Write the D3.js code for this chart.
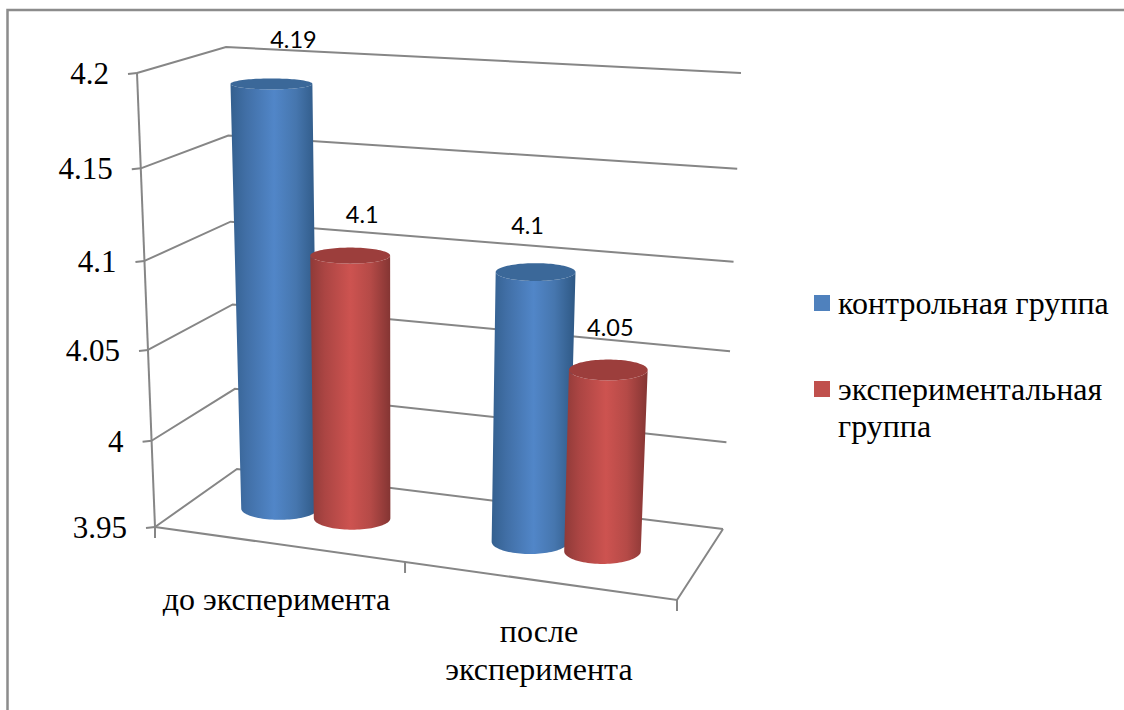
<!DOCTYPE html>
<html><head><meta charset="utf-8">
<script src="https://cdn.jsdelivr.net/npm/d3@7"></script>
<style>html,body{margin:0;padding:0;background:#fff;overflow:hidden}svg{display:block}</style>
</head><body><svg id="c" width="1124" height="710"></svg>
<script>
const categories = [["до эксперимента"], ["после", "эксперимента"]];
const seriesNames = [["контрольная группа"], ["экспериментальная", "группа"]];
const controlValues = [4.19, 4.1];
const experimentalValues = [4.1, 4.05];
const tickValues = [3.95, 4, 4.05, 4.1, 4.15, 4.2];
const tickLabels = ["3.95", "4", "4.05", "4.1", "4.15", "4.2"];
const series = [controlValues, experimentalValues];

const svg = d3.select("#c");
const defs = svg.append("defs");
const AXIS = "#868686";

// perspective box: floor corners and ceiling corners in the picture
const floor = {fl:[155,527], fr:[677,600], bl:[237,469], br:[723,529]};
const ceil  = {fl:[137,73],  fr:[703,113], bl:[226,47],  br:[741,73]};
const rise = d3.scaleLinear().domain(tickValues).range([0,.19,.39,.586,.79,1]);
const bilerp = (c,u,d) => {
  const a = d3.interpolateNumber, f = i => a(a(c.fl[i],c.fr[i])(u), a(c.bl[i],c.br[i])(u))(d);
  return [f(0), f(1)];
};
function project(u,d,v){
  const p = bilerp(floor,u,d), q = bilerp(ceil,u,d), t = rise(v);
  return [p[0]+(q[0]-p[0])*t, p[1]+(q[1]-p[1])*t];
}
const xBand = d3.scaleBand().domain(d3.range(categories.length)).range([-.0105,.9835]);
const seriesOffset = d3.scalePoint().domain(d3.range(series.length)).range([-.073,.071]);
const radiusU = .076, radiusD = .185, midD = .505;

function grad(id, stops){
  const g = defs.append("linearGradient").attr("id",id);
  stops.forEach(([o,c]) => g.append("stop").attr("offset",o).attr("stop-color",c));
}
grad("g0",[[0,"#34608f"],[.18,"#416fa6"],[.5,"#5186c8"],[.75,"#4676ae"],[1,"#2e5884"]]);
grad("g1",[[0,"#8f3a38"],[.18,"#ab4543"],[.5,"#cd5350"],[.75,"#b54a47"],[1,"#843533"]]);
const topFill = ["#3b6899","#9c3e3c"];
const swatch = ["#4f81bd","#c0504d"];

const line = d3.line();
const stroke = s => s.attr("stroke",AXIS).attr("stroke-width",2).attr("fill","none");

// walls
tickValues.forEach(v => {
  stroke(svg.append("path")).attr("d", line([project(0,0,v),project(0,1,v),project(1,1,v)]));
});
// floor and axes
stroke(svg.append("path")).attr("d", line([project(0,0,3.95),project(1,0,3.95),project(1,1,3.95)]));
stroke(svg.append("path")).attr("d", line([project(0,0,3.95),project(0,0,4.2)]));
tickValues.forEach(v => {
  const p = project(0,0,v);
  stroke(svg.append("path")).attr("d", line([[p[0]-9,p[1]+1],p]));
});
const tickU = d3.scaleLinear().domain([0,.5,1]).range([0,.479,1]);
[0,.5,1].forEach(u => {
  const p = project(tickU(u),0,3.95);
  stroke(svg.append("path")).attr("d", line([p,[p[0],p[1]+11]]));
});

// cylinders: level ellipses whose size comes from the projection
const thetas = d3.range(0,Math.PI+.001,Math.PI/48);
const uOf = (c,s) => xBand(c)+xBand.bandwidth()/2+seriesOffset(s);
const marks = [];
categories.forEach((_,c) => series.forEach((vals,s) => marks.push({c,s,v:vals[c]})));
function ellipse(u,v){
  const c = project(u,midD,v);
  const rx = (project(u+radiusU,midD,v)[0]-project(u-radiusU,midD,v)[0])/2;
  const ry = (project(u,midD-radiusD,v)[1]-project(u,midD+radiusD,v)[1])/2;
  return sign => thetas.map(t => [c[0]-rx*Math.cos(t), c[1]+sign*ry*Math.sin(t)]);
}
marks.forEach(m => {
  const u = uOf(m.c,m.s);
  const base = ellipse(u,3.95), top = ellipse(u,m.v);
  const frontTop = top(1).reverse();
  svg.append("path").attr("d", line(base(1).concat(frontTop))+"Z").attr("fill",`url(#g${m.s})`);
  svg.append("path").attr("d", line(top(-1).concat(frontTop))+"Z").attr("fill",topFill[m.s]);
});

// data labels
const labelNudge = [[22,-36],[12,-33],[-8,-38],[2,-34]];
marks.forEach((m,i) => {
  const p = project(uOf(m.c,m.s),midD,m.v);
  svg.append("text").attr("x",p[0]+labelNudge[i][0]).attr("y",p[1]+labelNudge[i][1])
    .attr("text-anchor","middle").attr("font-family","Lato, 'Open Sans', sans-serif").attr("font-size",23.5)
    .attr("fill","#000").text(String(m.v));
});

const serif = "'Liberation Serif','Times New Roman',serif";
// value labels
tickValues.forEach((v,i) => {
  const p = project(0,0,v);
  svg.append("text").attr("x",p[0]-28).attr("y",p[1]+11).attr("text-anchor","end")
    .attr("font-family",serif).attr("font-size",31).attr("fill","#000").text(tickLabels[i]);
});
// category labels
const catBase = [610,642], catLead = 38;
categories.forEach((lines,c) => {
  lines.forEach((t,j) => svg.append("text").attr("x",[276.5,539][c]).attr("y",catBase[c]+j*catLead)
    .attr("text-anchor","middle").attr("font-family",serif).attr("font-size",32).attr("fill","#000").text(t));
});
// legend
const legY = [295,381];
seriesNames.forEach((lines,s) => {
  svg.append("rect").attr("x",814).attr("y",legY[s]).attr("width",16).attr("height",16).attr("fill",swatch[s]);
  lines.forEach((t,j) => svg.append("text").attr("x",838).attr("y",legY[s]+18.5+j*37)
    .attr("font-family",serif).attr("font-size",32).attr("fill","#000").text(t));
});
// outer frame, cut by the picture's right and bottom edges
svg.append("path").attr("d", line([[7.5,710],[7.5,10],[1124,10]])).attr("fill","none").attr("stroke","#8c8c8c").attr("stroke-width",2.5);
</script></body></html>
